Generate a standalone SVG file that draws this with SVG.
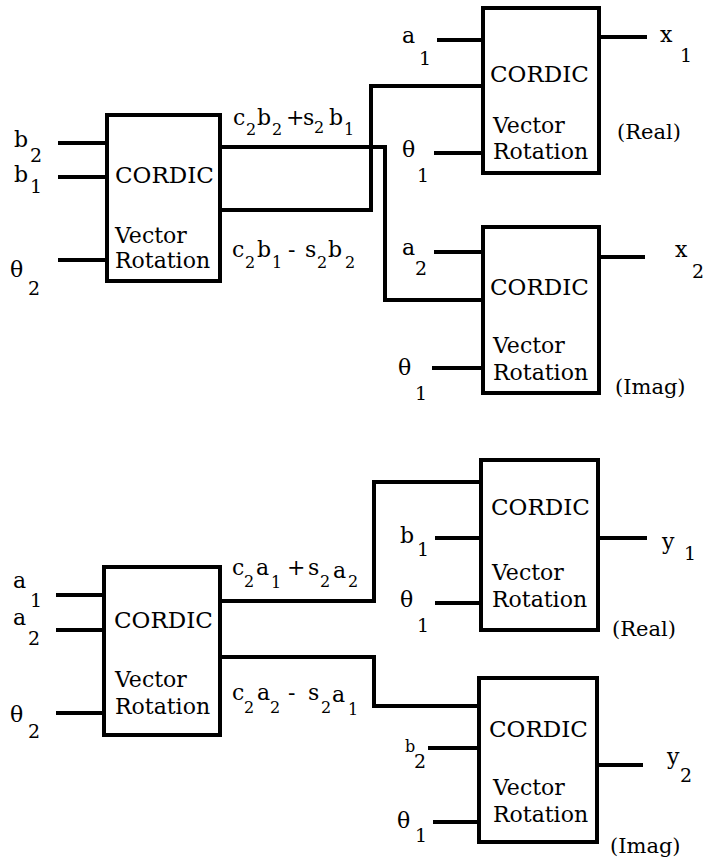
<svg xmlns="http://www.w3.org/2000/svg" width="704" height="863" viewBox="0 0 704 863">
<style>
  .box { fill: #fff; stroke: #000; stroke-width: 4; }
  .wire { fill: none; stroke: #000; stroke-width: 4; stroke-linejoin: miter; }
  .bc { font-size: 23px; }
  .bt { font-size: 22px; }
  .lb { font-size: 22px; }
  .sb { font-size: 19px; }
  .ex { font-size: 22px; }
  .es { font-size: 16px; }
  .pl { font-size: 21px; }
</style>
<rect width="704" height="863" fill="#fff"/>

<g id="connectors">
  <path class="wire" d="M58 143 H107 M58 177 H107 M58 260 H107"/>
  <path class="wire" d="M220 147 H385 V300 H483"/>
  <path class="wire" d="M220 210 H371 V86 H483"/>
  <path class="wire" d="M437 40 H483 M434 153 H483 M599 37 H647"/>
  <path class="wire" d="M434 252 H483 M432 368 H483 M599 257 H645"/>
  <path class="wire" d="M56 595 H104 M56 630 H104 M56 713 H104"/>
  <path class="wire" d="M220 601 H374 V482 H481"/>
  <path class="wire" d="M220 657 H374 V706 H479"/>
  <path class="wire" d="M435 538 H481 M435 603 H481 M598 538 H647"/>
  <path class="wire" d="M428 748 H479 M433 822 H479 M597 765 H643"/>
</g>

<g id="node-tl" font-family="DejaVu Serif">
  <rect class="box" x="107" y="115" width="113" height="166"/>
  <text class="bc" x="115" y="183">CORDIC</text>
  <text class="bt" x="115" y="243">Vector</text>
  <text class="bt" x="115" y="268">Rotation</text>
</g>

<g id="node-tr1" font-family="DejaVu Serif">
  <rect class="box" x="483" y="8" width="116" height="165"/>
  <text class="bc" x="490" y="82">CORDIC</text>
  <text class="bt" x="493" y="133">Vector</text>
  <text class="bt" x="493" y="159">Rotation</text>
</g>

<g id="node-tr2" font-family="DejaVu Serif">
  <rect class="box" x="483" y="227" width="116" height="166"/>
  <text class="bc" x="490" y="295">CORDIC</text>
  <text class="bt" x="493" y="353">Vector</text>
  <text class="bt" x="493" y="380">Rotation</text>
</g>

<g id="node-bl" font-family="DejaVu Serif">
  <rect class="box" x="104" y="567" width="116" height="168"/>
  <text class="bc" x="114" y="628">CORDIC</text>
  <text class="bt" x="115" y="687">Vector</text>
  <text class="bt" x="115" y="714">Rotation</text>
</g>

<g id="node-br1" font-family="DejaVu Serif">
  <rect class="box" x="481" y="460" width="117" height="170"/>
  <text class="bc" x="491" y="515">CORDIC</text>
  <text class="bt" x="492" y="580">Vector</text>
  <text class="bt" x="492" y="607">Rotation</text>
</g>

<g id="node-br2" font-family="DejaVu Serif">
  <rect class="box" x="479" y="678" width="118" height="164"/>
  <text class="bc" x="489" y="737">CORDIC</text>
  <text class="bt" x="493" y="795">Vector</text>
  <text class="bt" x="493" y="822">Rotation</text>
</g>

<g id="labels-top" font-family="DejaVu Serif">
  <text class="lb" x="14" y="147">b</text><text class="sb" x="30" y="162">2</text>
  <text class="lb" x="14" y="182">b</text><text class="sb" x="30" y="193">1</text>
  <text class="lb" x="10" y="277">θ</text><text class="sb" x="28" y="295">2</text>
  <text class="ex" x="233" y="125">c</text><text class="es" x="246" y="135">2</text><text class="ex" x="257" y="125">b</text><text class="es" x="272" y="135">2</text><text class="ex" x="286" y="125">+</text><text class="ex" x="303" y="125">s</text><text class="es" x="314" y="133">2</text><text class="ex" x="329" y="125">b</text><text class="es" x="344" y="135">1</text>
  <text class="ex" x="232" y="257">c</text><text class="es" x="245" y="268">2</text><text class="ex" x="257" y="257">b</text><text class="es" x="272" y="268">1</text><text class="ex" x="288" y="257">-</text><text class="ex" x="305" y="257">s</text><text class="es" x="317" y="268">2</text><text class="ex" x="328" y="257">b</text><text class="es" x="345" y="268">2</text>
  <text class="lb" x="402" y="43">a</text><text class="sb" x="419" y="65">1</text>
  <text class="lb" x="402" y="157">θ</text><text class="sb" x="417" y="182">1</text>
  <text class="lb" x="660" y="42">x</text><text class="sb" x="680" y="62">1</text>
  <text class="pl" x="617" y="139">(Real)</text>
  <text class="lb" x="402" y="255">a</text><text class="sb" x="415" y="275">2</text>
  <text class="lb" x="398" y="375">θ</text><text class="sb" x="415" y="400">1</text>
  <text class="lb" x="675" y="257">x</text><text class="sb" x="692" y="278">2</text>
  <text class="pl" x="615" y="394">(Imag)</text>
</g>

<g id="labels-bottom" font-family="DejaVu Serif">
  <text class="lb" x="13" y="588">a</text><text class="sb" x="30" y="607">1</text>
  <text class="lb" x="13" y="625">a</text><text class="sb" x="28" y="645">2</text>
  <text class="lb" x="10" y="722">θ</text><text class="sb" x="28" y="738">2</text>
  <text class="ex" x="232" y="575">c</text><text class="es" x="244" y="587">2</text><text class="ex" x="256" y="575">a</text><text class="es" x="271" y="588">1</text><text class="ex" x="287" y="575">+</text><text class="ex" x="308" y="575">s</text><text class="es" x="320" y="587">2</text><text class="ex" x="333" y="578">a</text><text class="es" x="348" y="587">2</text>
  <text class="ex" x="232" y="700">c</text><text class="es" x="244" y="713">2</text><text class="ex" x="257" y="700">a</text><text class="es" x="270" y="713">2</text><text class="ex" x="288" y="700">-</text><text class="ex" x="308" y="700">s</text><text class="es" x="321" y="713">2</text><text class="ex" x="332" y="702">a</text><text class="es" x="348" y="715">1</text>
  <text class="lb" x="400" y="543">b</text><text class="sb" x="417" y="556">1</text>
  <text class="lb" x="400" y="607">θ</text><text class="sb" x="417" y="632">1</text>
  <text class="lb" x="662" y="549">y</text><text class="sb" x="684" y="560">1</text>
  <text class="pl" x="612" y="636">(Real)</text>
  <text class="es" x="405" y="752">b</text><text class="sb" x="414" y="768">2</text>
  <text class="lb" x="397" y="828">θ</text><text class="sb" x="415" y="842">1</text>
  <text class="lb" x="667" y="764">y</text><text class="sb" x="680" y="782">2</text>
  <text class="pl" x="610" y="853">(Imag)</text>
</g>
</svg>
